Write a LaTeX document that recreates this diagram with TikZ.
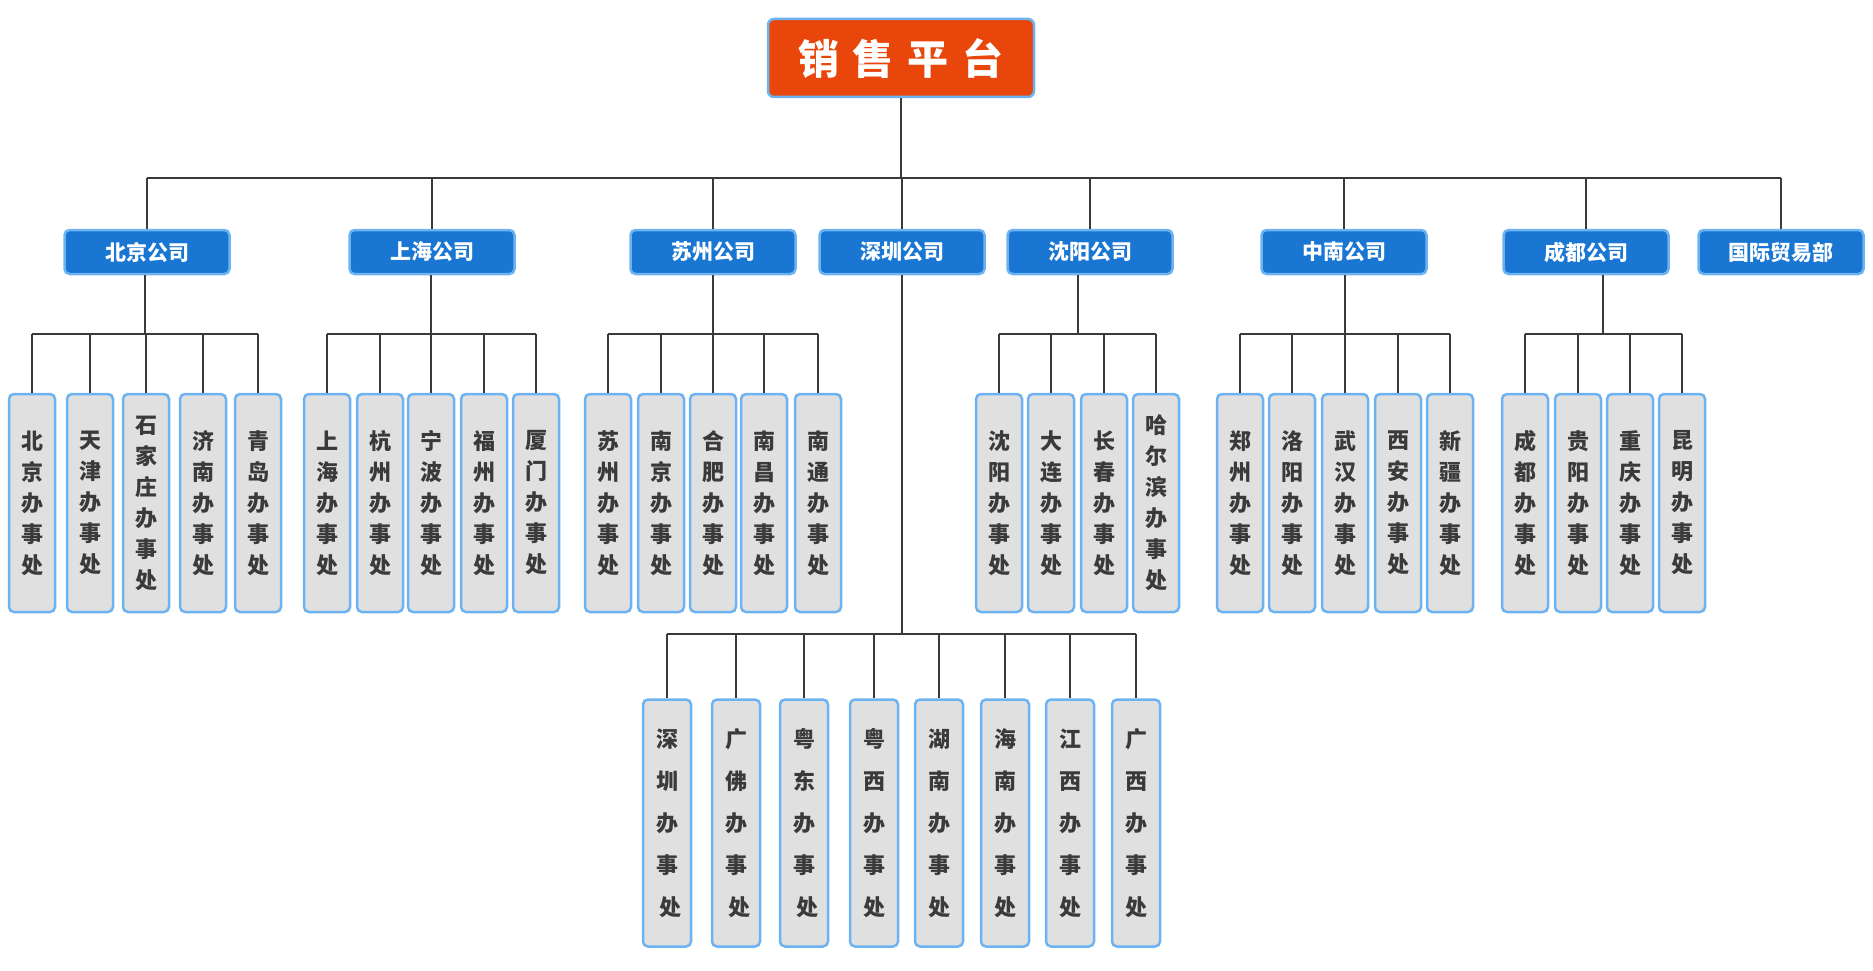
\documentclass[tikz,border=0pt]{standalone}
\usepackage{fontspec}
\setmainfont{Noto Sans CJK SC}
\definecolor{rootred}{HTML}{E8460B}
\definecolor{compblue}{HTML}{1976D2}
\definecolor{edgeblue}{HTML}{6DB3F2}
\definecolor{officegray}{HTML}{E0E0E0}
\definecolor{linegray}{HTML}{3A3A3A}
\tikzset{
  platform/.style={rectangle, rounded corners=6pt, fill=rootred, draw=edgeblue, line width=2.5pt,
    minimum width=266pt, minimum height=78pt, inner sep=0pt, text=white,
    font=\bfseries\fontsize{41}{41}\selectfont},
  company/.style={rectangle, rounded corners=5pt, fill=compblue, draw=edgeblue, line width=2.5pt,
    minimum width=165pt, minimum height=44pt, inner sep=0pt, text=white,
    font=\bfseries\fontsize{21}{21}\selectfont},
  office/.style={rectangle, rounded corners=5pt, fill=officegray, draw=edgeblue, line width=2.5pt,
    minimum width=46pt, minimum height=218pt, inner sep=0pt, align=center, text=linegray,
    font=\bfseries\fontsize{22}{31}\selectfont},
  longoffice/.style={office, minimum width=48pt, minimum height=247pt,
    font=\bfseries\fontsize{22}{42}\selectfont},
  link/.style={draw=linegray, line width=2.2pt}
}
\begin{document}
\begin{tikzpicture}[x=1pt,y=-1pt]
  \useasboundingbox (0,0) rectangle (1873,971);
  % top level
  \node[platform](top) at (901,58) {销\hspace{14pt}售\hspace{14pt}平\hspace{14pt}台};
  \coordinate(bus) at (901,178);
  % companies
  \node[company](bj) at (147,252) {北京公司};
  \node[company](sh) at (432,252) {上海公司};
  \node[company](sz) at (713,252) {苏州公司};
  \node[company](szh) at (902,252) {深圳公司};
  \node[company](sy) at (1090,252) {沈阳公司};
  \node[company](zn) at (1344,252) {中南公司};
  \node[company](cd) at (1586,252) {成都公司};
  \node[company](gj) at (1781,252) {国际贸易部};
  \draw[link] (top) -- (bus);
  \draw[link] (bj.north |- bus) -- (gj.north |- bus);
  \foreach \c in {bj,sh,sz,szh,sy,zn,cd,gj}
    \draw[link] (\c.north |- bus) -- (\c.north);
  % offices
  \foreach \x/\n/\t in {32/bj1/{北\\京\\办\\事\\处}, 90/bj2/{天\\津\\办\\事\\处},
      146/bj3/{石\\家\\庄\\办\\事\\处}, 203/bj4/{济\\南\\办\\事\\处}, 258/bj5/{青\\岛\\办\\事\\处},
      327/sh1/{上\\海\\办\\事\\处}, 380/sh2/{杭\\州\\办\\事\\处}, 431/sh3/{宁\\波\\办\\事\\处},
      484/sh4/{福\\州\\办\\事\\处}, 536/sh5/{厦\\门\\办\\事\\处},
      608/sz1/{苏\\州\\办\\事\\处}, 661/sz2/{南\\京\\办\\事\\处}, 713/sz3/{合\\肥\\办\\事\\处},
      764/sz4/{南\\昌\\办\\事\\处}, 818/sz5/{南\\通\\办\\事\\处},
      999/sy1/{沈\\阳\\办\\事\\处}, 1051/sy2/{大\\连\\办\\事\\处}, 1104/sy3/{长\\春\\办\\事\\处},
      1156/sy4/{哈\\尔\\滨\\办\\事\\处},
      1240/zn1/{郑\\州\\办\\事\\处}, 1292/zn2/{洛\\阳\\办\\事\\处}, 1345/zn3/{武\\汉\\办\\事\\处},
      1398/zn4/{西\\安\\办\\事\\处}, 1450/zn5/{新\\疆\\办\\事\\处},
      1525/cd1/{成\\都\\办\\事\\处}, 1578/cd2/{贵\\阳\\办\\事\\处}, 1630/cd3/{重\\庆\\办\\事\\处},
      1682/cd4/{昆\\明\\办\\事\\处}}
    \node[office](\n) at (\x,503) {\t};
  \foreach \x/\n/\t in {667/szh1/{深\\圳\\办\\事\\\hspace*{6pt}处}, 736/szh2/{广\\佛\\办\\事\\\hspace*{6pt}处},
      804/szh3/{粤\\东\\办\\事\\\hspace*{6pt}处}, 874/szh4/{粤\\西\\办\\事\\处}, 939/szh5/{湖\\南\\办\\事\\处},
      1005/szh6/{海\\南\\办\\事\\处}, 1070/szh7/{江\\西\\办\\事\\处}, 1136/szh8/{广\\西\\办\\事\\处}}
    \node[longoffice](\n) at (\x,823) {\t};
  % branch buses
  \coordinate(bjbus) at (145,334);
  \coordinate(shbus) at (431,334);
  \coordinate(szbus) at (713,334);
  \coordinate(sybus) at (1078,334);
  \coordinate(znbus) at (1345,334);
  \coordinate(cdbus) at (1603,334);
  \coordinate(szhbus) at (902,634);
  \foreach \c/\a/\b/\k in {bj/bj1/bj5/5, sh/sh1/sh5/5, sz/sz1/sz5/5, sy/sy1/sy4/4,
      zn/zn1/zn5/5, cd/cd1/cd4/4, szh/szh1/szh8/8} {
    \draw[link] (\c bus |- \c.south) -- (\c bus);
    \draw[link] (\a.north |- \c bus) -- (\b.north |- \c bus);
    \foreach \i in {1,...,\k}
      \draw[link] (\c\i.north |- \c bus) -- (\c\i.north);
  }
\end{tikzpicture}
\end{document}
